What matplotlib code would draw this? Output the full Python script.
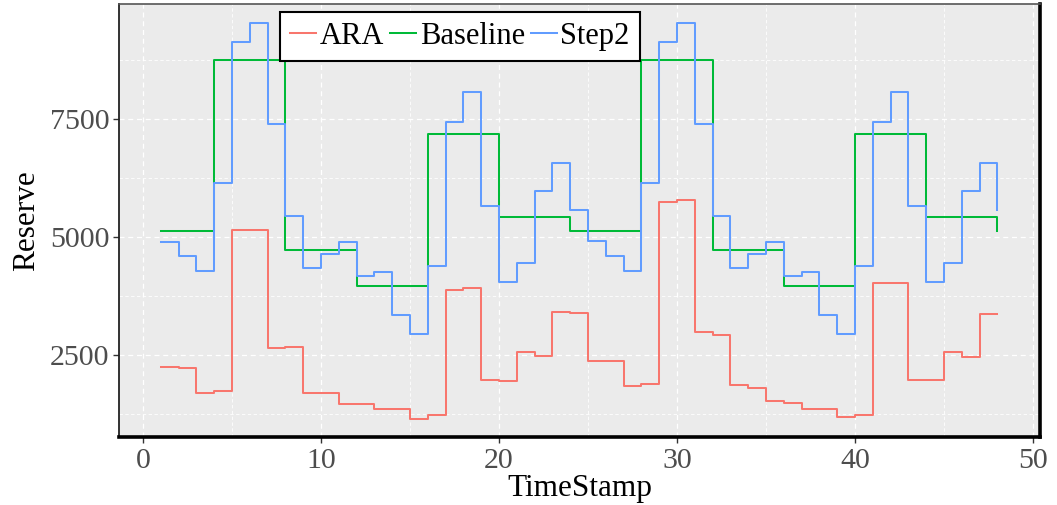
"""Step chart of reserve per timestamp: ARA vs Baseline vs Step2."""

import matplotlib
matplotlib.use("Agg")
import matplotlib.pyplot as plt
from matplotlib.ticker import MultipleLocator

plt.rcParams["font.family"] = ["Liberation Serif", "DejaVu Serif"]

timestamp = list(range(1, 49))

ara = [2253, 2232, 1696, 1745, 5155, 5155, 2642, 2663, 1696, 1696, 1470, 1449,
       1357, 1357, 1145, 1216, 3884, 3927, 1971, 1950, 2564, 2472, 3404, 3383,
       2381, 2381, 1844, 1879, 5741, 5791, 2988, 2924, 1858, 1795, 1526, 1484,
       1357, 1357, 1194, 1216, 4026, 4026, 1971, 1971, 2564, 2458, 3362, 3362]

baseline = [5134, 5134, 5134, 8756, 8756, 8756, 8756, 4732, 4732, 4732, 4732, 3969,
            3969, 3969, 3969, 7182, 7182, 7182, 7182, 5431, 5431, 5431, 5431, 5134,
            5134, 5134, 5134, 8756, 8756, 8756, 8756, 4732, 4732, 4732, 4732, 3969,
            3969, 3969, 3969, 7182, 7182, 7182, 7182, 5431, 5431, 5431, 5431, 5134]

step2 = [4901, 4598, 4273, 6151, 9137, 9547, 7400, 5438, 4336, 4640, 4887, 4174,
         4251, 3355, 2952, 4379, 7443, 8071, 5664, 4047, 4442, 5974, 6567, 5565,
         4908, 4605, 4273, 6151, 9137, 9547, 7400, 5438, 4336, 4640, 4887, 4174,
         4251, 3355, 2952, 4379, 7443, 8071, 5664, 4047, 4442, 5974, 6567, 5565]

series = [("ARA", ara, "#F8766D"), ("Baseline", baseline, "#00BA38"),
          ("Step2", step2, "#619CFF")]

fig = plt.figure(figsize=(10.57, 5.05), dpi=100)
ax = fig.add_axes([0.1126, 0.1347, 0.8713, 0.8574])
ax.set_facecolor("#EBEBEB")

for name, vals, col in series:
    ax.step(timestamp, vals, where="post", color=col, lw=1.45, label=name)

ax.set_xlim(-1.35, 50.39)
ax.set_ylim(760, 9945)
ax.xaxis.set_major_locator(MultipleLocator(10))
ax.xaxis.set_minor_locator(MultipleLocator(5))
ax.yaxis.set_major_locator(MultipleLocator(2500))
ax.yaxis.set_minor_locator(MultipleLocator(1250))
ax.grid(which="major", color="white", ls=(0, (4, 3)), lw=0.9)
ax.grid(which="minor", color="white", ls=(0, (4, 3)), lw=0.6)
ax.set_axisbelow(True)

ax.tick_params(which="major", length=4, width=1, color="#333333",
               labelsize=21.5, labelcolor="#4D4D4D", pad=3)
ax.tick_params(axis="x", pad=4)
ax.tick_params(which="minor", length=0)

ax.spines["top"].set_color("#555555")
ax.spines["top"].set_linewidth(1.2)
ax.spines["left"].set_color("#222222")
ax.spines["left"].set_linewidth(1.3)
ax.spines["bottom"].set_color("black")
ax.spines["bottom"].set_linewidth(2.6)
ax.spines["right"].set_color("black")
ax.spines["right"].set_linewidth(2.6)

ax.set_xlabel("TimeStamp", fontsize=22.5, labelpad=0)
ax.set_ylabel("Reserve", fontsize=22.5, labelpad=6)

leg = ax.legend(ncol=3, loc="upper center", bbox_to_anchor=(0.37, 0.982),
                fontsize=22, handlelength=0.85, handletextpad=0.12,
                columnspacing=0.2, borderpad=0.33, fancybox=False,
                framealpha=1, borderaxespad=0)
leg.get_frame().set_edgecolor("black")
leg.get_frame().set_linewidth(1.5)

fig.savefig("out.png", dpi=100)
